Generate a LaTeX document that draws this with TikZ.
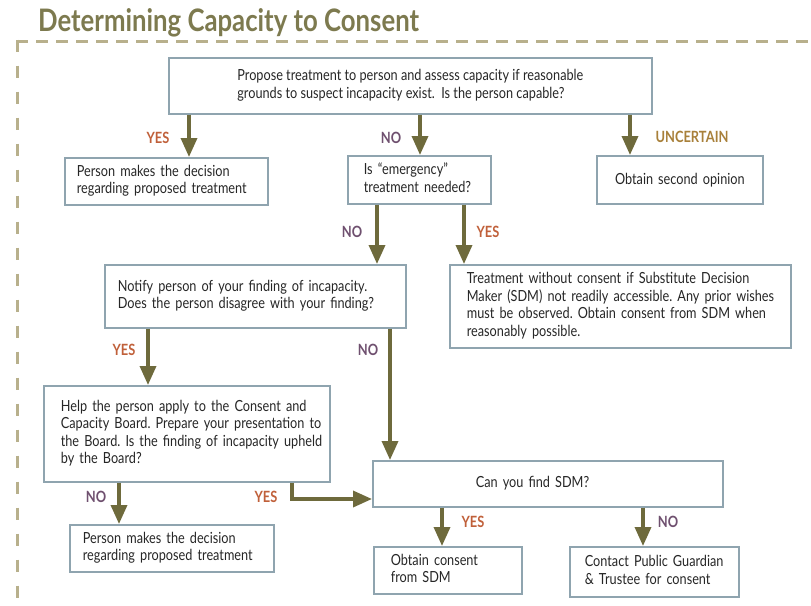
\documentclass[tikz,border=0pt]{standalone}
\usepackage{fontspec}
\setmainfont{Lato}[FakeStretch=0.83]
\usetikzlibrary{arrows.meta}
\definecolor{boxc}{HTML}{8FA4AF}
\definecolor{arrc}{HTML}{6E6A3C}
\definecolor{yesc}{HTML}{C0603A}
\definecolor{noc}{HTML}{6F506F}
\definecolor{unc}{HTML}{A8803A}
\definecolor{titc}{HTML}{7D7A4F}
\definecolor{dashc}{HTML}{B8B08C}
\newcommand{\lines}[1]{\begin{tabular}{@{}l@{}}#1\end{tabular}}
\tikzset{
  box/.style={draw=boxc, line width=1.7pt, inner ysep=0pt, anchor=north west,
    font=\fontsize{15.3}{17.5}\selectfont, align=left, text=black!85},
  arr/.style={draw=arrc, line width=3.5pt, -{Triangle[width=16pt,length=19pt]}},
  lab/.style={font=\bfseries\fontsize{15.5}{16}\selectfont, inner sep=0pt},
}
\begin{document}
\frenchspacing
\begin{tikzpicture}[x=1pt,y=-1pt]
\useasboundingbox (0,0) rectangle (811,605);
% title and dashed frame
\node[anchor=base west, inner sep=0pt, text=titc, font=\bfseries\fontsize{31}{32}\selectfont] (title) at (38,31) {Determining Capacity to Consent};
\draw[dashc, line width=3pt, dash pattern=on 12pt off 8pt] (16,41) -- (811,41);
\draw[dashc, line width=3pt, dash pattern=on 12pt off 14pt] (17,39.5) -- (17,605);
% boxes
\node[box, minimum width=483pt, minimum height=56pt] (b1) at (168,57)
  {\lines{Propose treatment to person and assess capacity if reasonable\\grounds to suspect incapacity exist.\ \ Is the person capable?}};
\node[box, minimum height=47pt, inner xsep=12pt, text width=179pt] (b2) at (64,157)
  {\lines{Person makes the decision\\regarding proposed treatment}};
\node[box, minimum height=48pt, inner xsep=16pt, text width=111pt] (b3) at (347,155)
  {\lines{Is ``emergency''\\treatment needed?}};
\node[box, minimum height=48pt, inner xsep=8pt, text width=150pt, align=center] (b4) at (596,155)
  {Obtain second opinion};
\node[box, minimum height=63pt, inner xsep=13pt, text width=275pt] (b5) at (104,264)
  {\lines{Notify person of your finding of incapacity.\\Does the person disagree with your finding?}};
\node[box, minimum height=83pt, inner xsep=17pt, text width=307pt] (b6) at (449,264)
  {\lines{Treatment without consent if Substitute Decision\\Maker (SDM) not readily accessible. Any prior wishes\\must be observed. Obtain consent from SDM when\\reasonably possible.}};
\node[box, minimum height=96pt, inner xsep=17pt, text width=252pt] (b7) at (43,385)
  {\lines{Help the person apply to the Consent and\\Capacity Board. Prepare your presentation to\\the Board. Is the finding of incapacity upheld\\by the Board?}};
\node[box, minimum height=46pt, inner xsep=103pt, text width=144pt] (b8) at (372,460)
  {\lines{Can you find SDM?}};
\node[box, minimum height=47pt, inner xsep=13pt, text width=178pt] (b9) at (69,524)
  {\lines{Person makes the decision\\regarding proposed treatment}};
\node[box, minimum height=47pt, inner xsep=17pt, text width=114pt] (b10) at (373,546)
  {\lines{Obtain consent\\from SDM}};
\node[box, minimum height=50pt, inner xsep=15pt, text width=139pt] (b11) at (569,546)
  {\lines{Contact Public Guardian\\\&~Trustee for consent}};
% x positions of connectors
\coordinate (xa) at (189,0);
\coordinate (xb) at (420,0);
\coordinate (xc) at (630,0);
\coordinate (xd) at (377,0);
\coordinate (xe) at (464,0);
\coordinate (xf) at (148,0);
\coordinate (xg) at (390,0);
\coordinate (xh) at (119,0);
\coordinate (xi) at (292,0);
\coordinate (yi) at (0,499);
\coordinate (xj) at (442,0);
\coordinate (xk) at (643,0);
% connectors
\draw[arr] (b1.south -| xa) -- (b2.north -| xa);
\draw[arr] (b1.south -| xb) -- (b3.north -| xb);
\draw[arr] (b1.south -| xc) -- (b4.north -| xc);
\draw[arr] (b3.south -| xd) -- (b5.north -| xd);
\draw[arr] (b3.south -| xe) -- (b6.north -| xe);
\draw[arr] (b5.south -| xf) -- (b7.north -| xf);
\draw[arr] (b5.south -| xg) -- (b8.north -| xg);
\draw[arr] (b7.south -| xh) -- (b9.north -| xh);
\draw[arr] (b7.south -| xi) |- (b8.west |- yi);
\draw[arr] (b8.south -| xj) -- (b10.north -| xj);
\draw[arr] (b8.south -| xk) -- (b11.north -| xk);
% labels
\node[lab, text=yesc] (l1) at (158,138) {YES};
\node[lab, text=noc] (l2) at (391,138) {NO};
\node[lab, text=unc] (l3) at (692,137) {UNCERTAIN};
\node[lab, text=noc] (l4) at (352,232) {NO};
\node[lab, text=yesc] (l5) at (488,232) {YES};
\node[lab, text=yesc] (l6) at (124,350) {YES};
\node[lab, text=noc] (l7) at (368,350) {NO};
\node[lab, text=noc] (l8) at (96,497) {NO};
\node[lab, text=yesc] (l9) at (266,497) {YES};
\node[lab, text=yesc] (l10) at (473,522) {YES};
\node[lab, text=noc] (l11) at (668,522) {NO};
\end{tikzpicture}
\end{document}
